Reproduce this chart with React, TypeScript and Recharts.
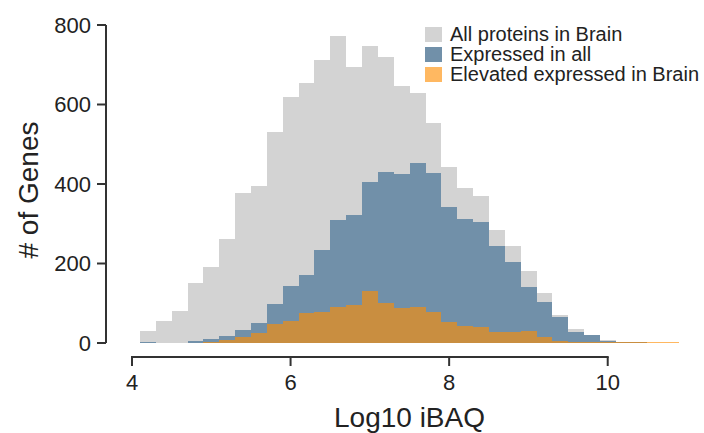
import { BarChart, Bar, XAxis, YAxis, Legend, Cell } from "recharts";

// histogram bins of log10 iBAQ, width 0.2
const binCenters = [
  4.2, 4.4, 4.6, 4.8, 5.0, 5.2, 5.4, 5.6, 5.8, 6.0, 6.2, 6.4, 6.6, 6.8, 7.0, 7.2, 7.4,
  7.6, 7.8, 8.0, 8.2, 8.4, 8.6, 8.8, 9.0, 9.2, 9.4, 9.6, 9.8, 10.0, 10.2, 10.4, 10.6, 10.8,
];
const allProteins = [
  31, 55, 80, 150, 190, 262, 378, 396, 532, 620, 655, 712, 773, 695, 747, 719, 647,
  630, 554, 443, 389, 371, 284, 244, 182, 125, 70, 35, 18, 8, 3, 3, 0, 0,
];
const expressedInAll = [
  3, 1, 1, 5, 9, 18, 33, 50, 97, 143, 170, 234, 309, 322, 406, 431, 425,
  452, 427, 343, 313, 304, 244, 205, 142, 103, 66, 28, 19, 6, 2, 3, 0, 0,
];
const elevatedInBrain = [
  0, 1, 1, 1, 3, 8, 14, 24, 48, 56, 76, 79, 91, 95, 132, 100, 87,
  91, 77, 54, 44, 41, 28, 28, 31, 14, 6, 2, 2, 2, 2, 2, 2, 2,
];
const seriesNames = ["All proteins in Brain", "Expressed in all", "Elevated expressed in Brain"];
const xTicks = [4, 6, 8, 10];
const yTicks = [0, 200, 400, 600, 800];

const data = binCenters.map((x, i) => ({
  x,
  all: allProteins[i],
  expr: expressedInAll[i],
  elev: elevatedInBrain[i],
}));

const W = 704;
const H = 433;
const MARGIN = { top: 25, right: 14, bottom: 0, left: 0 };
const Y_AXIS_W = 106;
const X_AXIS_H = 90;
const PLOT_BOTTOM = H - MARGIN.bottom - X_AXIS_H;
const X_MIN = 4;
const X_MAX = 11;
const PAD_L = 26;
const PAD_R = 3;
const BIN_W = 0.2;
const plotW = W - MARGIN.left - MARGIN.right - Y_AXIS_W;
const unit = (plotW - PAD_L - PAD_R) / (X_MAX - X_MIN);
const binLo = binCenters[0] - BIN_W / 2;
const binHi = binCenters[binCenters.length - 1] + BIN_W / 2;
const binPad = {
  left: PAD_L + (binLo - X_MIN) * unit,
  right: PAD_R + (X_MAX - binHi) * unit,
};

const INK = "#333";
const TEXT = "#222";
const GRAY = "#d3d3d3";
const BLUE = "#7190a9";
const ORANGE_ON_BLUE = "#c98e40"; // translucent dark orange over the blue bars
const ORANGE_ON_WHITE = "#ffb861"; // same orange over white
const FONT = '"Liberation Sans", Arial, Helvetica, sans-serif';

function XTick({ x, payload, index }: any) {
  const ax = PLOT_BOTTOM + 14;
  const span = (xTicks[xTicks.length - 1] - xTicks[0]) * unit;
  return (
    <g>
      {index === 0 && (
        <line x1={x} x2={x + span} y1={ax} y2={ax} stroke={INK} strokeWidth={2} strokeLinecap="square" />
      )}
      <line x1={x} x2={x} y1={ax} y2={ax + 9} stroke={INK} strokeWidth={2} />
      <text x={x} y={ax + 33} textAnchor="middle" fontSize={22} fill={TEXT}>
        {payload.value}
      </text>
    </g>
  );
}

function XTitle({ viewBox }: any) {
  const cx = viewBox.x + PAD_L + ((X_MAX - X_MIN) / 2) * unit;
  return (
    <text x={cx} y={427} textAnchor="middle" fontSize={28} fill={TEXT}>
      Log10 iBAQ
    </text>
  );
}

function YTitle({ viewBox }: any) {
  const cx = viewBox.x + 28;
  const cy = viewBox.y + viewBox.height / 2 + 6;
  return (
    <text
      x={cx}
      y={cy}
      transform={`rotate(-90, ${cx}, ${cy})`}
      textAnchor="middle"
      dominantBaseline="central"
      fontSize={28}
      fill={TEXT}
    >
      # of Genes
    </text>
  );
}

function LegendBox() {
  const fills = [GRAY, BLUE, ORANGE_ON_WHITE];
  return (
    <div style={{ fontFamily: FONT, fontSize: 20, color: TEXT }}>
      {seriesNames.map((name, i) => (
        <div key={name} style={{ display: "flex", alignItems: "center", height: 20, whiteSpace: "nowrap" }}>
          <span
            style={{
              display: "inline-block",
              width: 17,
              height: 15,
              marginRight: 8,
              background: fills[i],
            }}
          />
          <span>{name}</span>
        </div>
      ))}
    </div>
  );
}

export default function App() {
  return (
    <div style={{ position: "absolute", left: 0, top: 0, fontFamily: FONT }}>
      <BarChart width={W} height={H} data={data} margin={MARGIN} barCategoryGap={0} barGap={0}>
        <XAxis xAxisId="all" dataKey="x" hide padding={binPad} />
        <XAxis xAxisId="expr" dataKey="x" hide padding={binPad} />
        <XAxis xAxisId="elev" dataKey="x" hide padding={binPad} />
        <XAxis
          xAxisId="num"
          type="number"
          dataKey="x"
          domain={[X_MIN, X_MAX]}
          ticks={xTicks}
          interval={0}
          allowDataOverflow
          padding={{ left: PAD_L, right: PAD_R }}
          axisLine={false}
          tickLine={false}
          tickSize={0}
          tickMargin={0}
          height={X_AXIS_H}
          tick={<XTick />}
          label={<XTitle />}
        />
        <YAxis
          domain={[0, 800]}
          ticks={yTicks}
          interval={0}
          width={Y_AXIS_W}
          tickSize={9}
          tickMargin={6}
          axisLine={{ stroke: INK, strokeWidth: 2 }}
          tickLine={{ stroke: INK, strokeWidth: 2 }}
          tick={{ fill: TEXT, fontSize: 22 }}
          label={<YTitle />}
        />
        <Legend
          layout="vertical"
          align="center"
          verticalAlign="middle"
          content={<LegendBox />}
          wrapperStyle={{ left: 425, top: 24, width: "auto" }}
        />
        <Bar xAxisId="all" dataKey="all" fill={GRAY} shapeRendering="crispEdges" isAnimationActive={false} />
        <Bar xAxisId="expr" dataKey="expr" fill={BLUE} shapeRendering="crispEdges" isAnimationActive={false} />
        <Bar xAxisId="elev" dataKey="elev" shapeRendering="crispEdges" isAnimationActive={false}>
          {data.map((d) => (
            <Cell key={d.x} fill={d.expr >= d.elev ? ORANGE_ON_BLUE : ORANGE_ON_WHITE} />
          ))}
        </Bar>
      </BarChart>
    </div>
  );
}
